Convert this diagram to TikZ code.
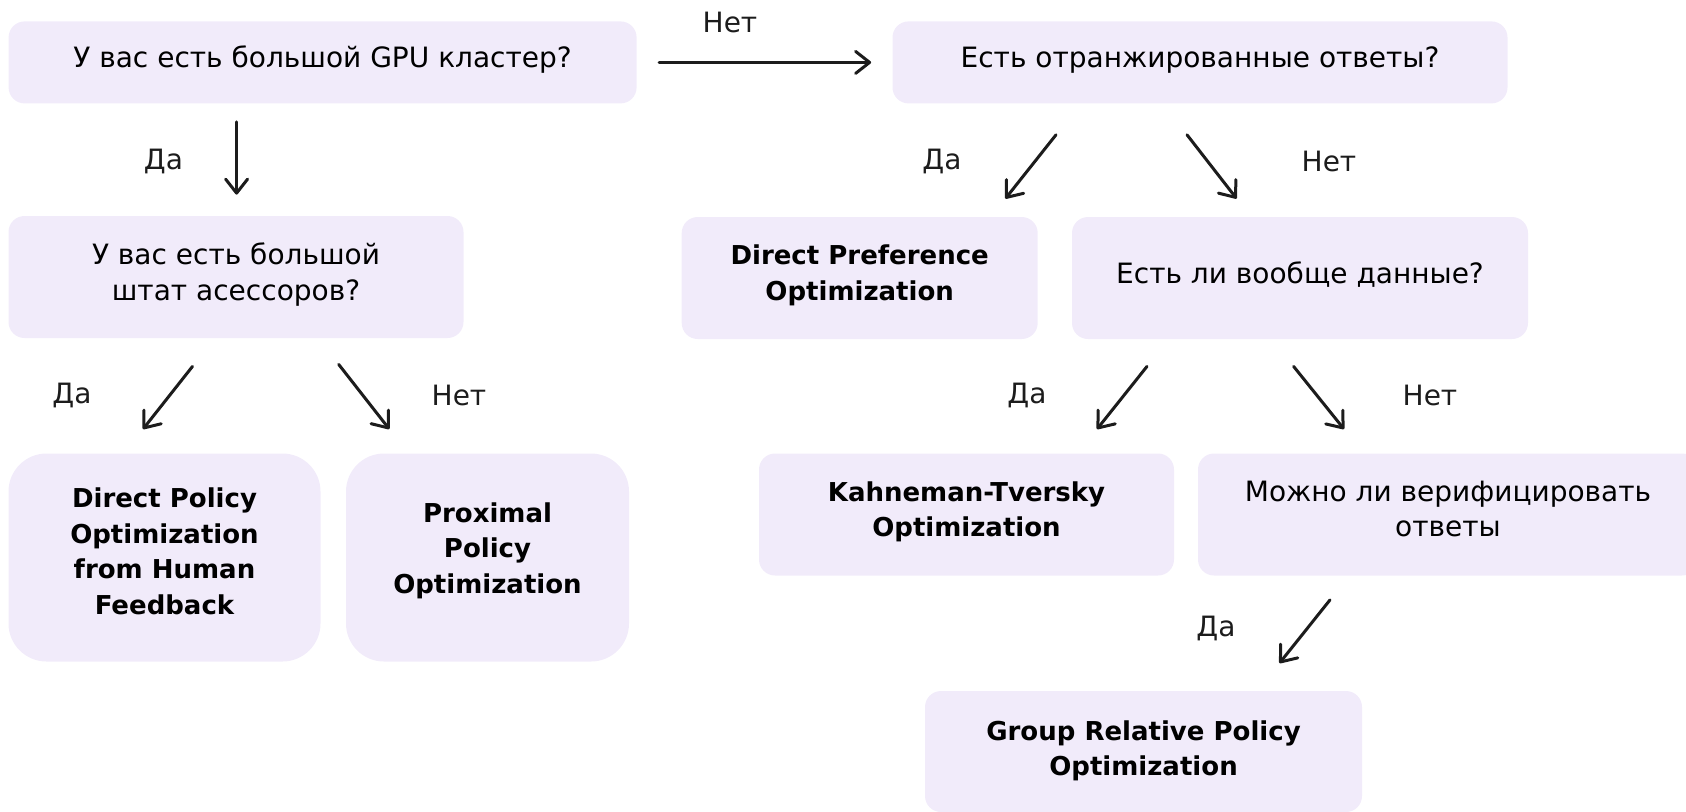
\documentclass[tikz,border=0pt]{standalone}
\usepackage{fontspec}
\setmainfont{DejaVu Sans}
\usetikzlibrary{arrows.meta,calc}
\definecolor{lavfill}{RGB}{241,235,250}
\definecolor{inkgray}{RGB}{28,28,28}
\tikzset{
  qbox/.style={fill=lavfill, rounded corners=8pt, align=center, inner sep=0pt,
    text depth=5.5pt, font=\fontsize{14}{17.75}\selectfont},
  abox/.style={qbox, font=\fontsize{13}{17.75}\selectfont\bfseries},
  tbox/.style={abox, rounded corners=19pt},
  wh/.style 2 args={minimum width=#1*0.5pt, minimum height=#2*0.5pt},
  darr/.style={-{Straight Barb[length=7pt,width=11pt,round]}, inkgray, line width=1.5pt, line cap=round},
  lab/.style={font=\fontsize{14}{17}\selectfont, text=inkgray},
}

\begin{document}
\begin{tikzpicture}[x=0.5pt,y=-0.5pt]
\useasboundingbox (0,0) rectangle (1686,811);
\clip (0,0) rectangle (1686,811);
% questions
\node[qbox, wh={628}{82}] (gpu) at (322.6,62.4) {У вас есть большой GPU кластер?};
\node[qbox, wh={615}{82}] (rank) at (1200,62.4) {Есть отранжированные ответы?};
\node[qbox, wh={455}{122}] (staff) at (236,277) {У вас есть большой\\штат асессоров?};
\node[qbox, wh={456}{122}] (data) at (1300,278) {Есть ли вообще данные?};
\node[qbox, wh={500}{122}] (verif) at (1448,514.5) {Можно ли верифицировать\\ответы};
% answers
\node[tbox, wh={312}{208}, text depth=6.5pt] (dpohf) at (164.5,557.5) {Direct Policy\\Optimization\\from Human\\Feedback};
\node[tbox, wh={283}{208}, text depth=9.5pt] (ppo) at (487.5,557.5) {Proximal\\Policy\\Optimization};
\node[abox, wh={356}{122}] (dpo) at (859.7,278) {Direct Preference\\Optimization};
\node[abox, wh={415}{122}] (kto) at (966.5,514.5) {Kahneman-Tversky\\Optimization};
\node[abox, wh={437}{121}, text depth=3.5pt] (grpo) at (1143.5,751.5) {Group Relative Policy\\Optimization};
% arrows
\draw[darr] ($(gpu.east)+(22,0)$) -- ($(rank.west)+(-21,0)$);
\draw[darr] ($(gpu.south)+(-86,18)$) -- ($(staff.north)+(0.6,-21)$);
\draw[darr] ($(staff.south)+(-43.5,28)$) -- ($(dpohf.north)+(-21.5,-24)$);
\draw[darr] ($(staff.south)+(102.7,26)$) -- ($(ppo.north)+(-98.2,-24)$);
\draw[darr] ($(rank.south)+(-144,31)$) -- ($(dpo.north)+(145.7,-18)$);
\draw[darr] ($(rank.south)+(-13,31)$) -- ($(data.north)+(-63.4,-18)$);
\draw[darr] ($(data.south)+(-153,27)$) -- ($(kto.north)+(130.5,-24)$);
\draw[darr] ($(data.south)+(-6.4,27)$) -- ($(verif.north)+(-104,-24)$);
\draw[darr] ($(verif.south)+(-118,24)$) -- ($(grpo.north)+(136,-27.5)$);
% labels
\node[lab] (n1) at (730,22) {Нет};
\node[lab] (y1) at (163.4,161) {Да};
\node[lab] (y2) at (72,395) {Да};
\node[lab] (n2) at (459,395) {Нет};
\node[lab] (y3) at (942,161) {Да};
\node[lab] (n3) at (1329,161) {Нет};
\node[lab] (y4) at (1027,395) {Да};
\node[lab] (n4) at (1430,395) {Нет};
\node[lab] (y5) at (1216,628) {Да};
\end{tikzpicture}
\end{document}
